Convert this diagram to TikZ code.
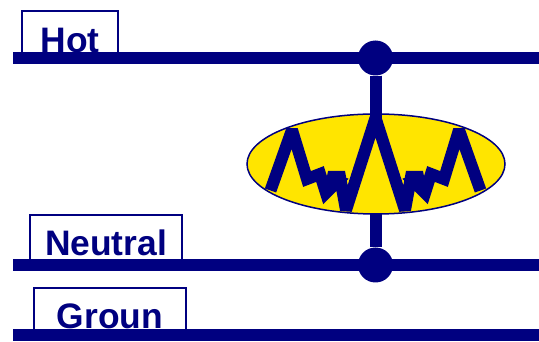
\documentclass[tikz,border=0pt]{standalone}
\usepackage{fontspec}
\setmainfont{Liberation Sans}
\usetikzlibrary{shapes.geometric}
\usetikzlibrary{positioning}
\definecolor{wirenavy}{HTML}{000080}
\definecolor{lampyellow}{HTML}{FFE500}
\tikzset{%
  every label box/.style={
    draw=wirenavy,
    line width=1.5pt,
    fill=white,
    anchor=north west,
    inner xsep=0pt,
    inner ysep=0pt,
    text=wirenavy,
    font=\fontsize{35.4}{38}\selectfont\bfseries
  },
  bus/.style={
    draw=wirenavy,
    line width=12pt
  },
  junction/.style={
    circle,
    fill=wirenavy,
    inner sep=0pt,
    minimum size=35pt
  },
}

\begin{document}
\begin{tikzpicture}[x=1pt, y=-1pt]

    \useasboundingbox (0,0) rectangle (539,342);

    \node [every label box, minimum width=96pt, text height=41.7pt, text depth=0pt] (hot-label) at (21.3,10.3) {Hot};
    \node [every label box, minimum width=152pt, text height=40.7pt, text depth=4pt] (neutral-label) at (29.3,214.3) {Neutral};
    \node [every label box, minimum width=152pt, text height=40.7pt, text depth=1pt] (ground-label) at (33.3,287.3) {Groun};

    % the three wires
    \foreach \n/\y in {hot/58,neutral/265,ground/335} {
        \coordinate (\n-left) at (13,\y);
        \coordinate (\n-right) at (539,\y);
        \draw [bus] (\n-left) -- (\n-right);
    }

    \node [junction] (hot-dot) at (375.5,58) {};
    \node [junction] (neutral-dot) at (375.5,265) {};

    \draw [bus] (hot-dot) -- (neutral-dot);

    \node [ellipse, draw=wirenavy, line width=1.5pt, fill=lampyellow,
           inner sep=0pt, minimum width=258pt, minimum height=100pt] (lamp) at (376,164) {};

    \coordinate (filament-start) at (270.5,190.5);
    \coordinate (filament-end) at (480.5,190.5);
    \coordinate (filament-top) at (375.5,118);

    \draw [bus] (hot-dot) -- (filament-top);

    % left half, apex, right half
    \draw [bus, miter limit=2] (filament-start) -- (292,130) -- (307,179) -- (320,174) -- (326,193)
        -- (338,181) -- (328,177) -- (340,177) -- (346,210) -- (filament-top) -- (405,210)
        -- (411,177) -- (423,177) -- (413,181) -- (425,193) -- (431,174) -- (444,179)
        -- (459,130) -- (filament-end);

\end{tikzpicture}
\end{document}
